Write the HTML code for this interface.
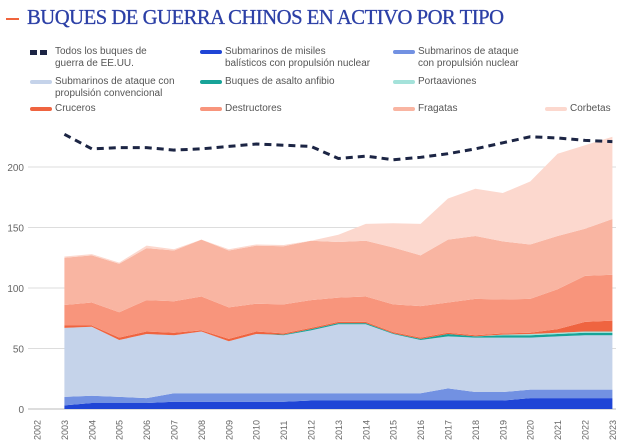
<!DOCTYPE html>
<html><head><meta charset="utf-8"><style>
body{margin:0;background:#fff;font-family:"Liberation Sans",sans-serif;}
#wrap{position:relative;width:628px;height:445px;overflow:hidden;}
.leg{position:absolute;font-size:10px;color:#555;line-height:12px;}
.sw{position:absolute;width:22px;height:4px;border-radius:2px;}
</style></head><body>
<div id="wrap">
<div style="position:absolute;left:6px;top:18px;width:13px;height:2px;background:#f0643c"></div>
<div style="position:absolute;left:27px;top:5px;font-family:'Liberation Serif',serif;font-size:21.5px;color:#2b3fa6;letter-spacing:-0.5px;transform:scaleX(0.96);transform-origin:left;-webkit-text-stroke:0.3px #2b3fa6">BUQUES DE GUERRA CHINOS EN ACTIVO POR TIPO</div>
<div id="legend"></div>
<svg id="chart" width="628" height="445" style="position:absolute;left:0;top:0"></svg>
</div>
<script>
const years=[2002,2003,2004,2005,2006,2007,2008,2009,2010,2011,2012,2013,2014,2015,2016,2017,2018,2019,2020,2021,2022,2023];
const dataYears=[2003,2004,2005,2006,2007,2008,2009,2010,2011,2012,2013,2014,2015,2016,2017,2018,2019,2020,2021,2022,2023];
const yTicks=[0,50,100,150,200];
const ssbn=[3,5,5,5,6,6,6,6,6,7,7,7,7,7,7,7,7,9,9,9,9];
const ssn=[7,6,5,4,7,7,7,7,7,6,6,6,6,6,10,7,7,7,7,7,7];
const ssk=[57,57,47,53,48,51,43,49,48,52,57,57,49,44,43,45,45,43,44,45,45];
const amphib=[0,0,0,0,0,0,0,0,0.5,1,1,1,0.5,1,2,1,2,2,2,2,2];
const carriers=[0,0,0,0,0,0,0,0,0,0,0,0,0,0,0,0,0.5,1,1,1,1];
const cruisers=[2,1,2,2,2,1,2,2,1,1,1,1,1,1,1,1,1,1,3,8,9];
const destroyers=[17,19,21,26,26,28,26,23,24,23,20,21,23,26,25,30,28,28,33,38,38];
const frigates=[39,39,40,43,42,47,47,48,48,49,46,46,47,42,52,52,48,45,44,39,46];
const corvettes=[1,1,1,2,1,0,1,1,1,0,6,14,20,26,34,39,40,52,68,69,68];
const usTotal=[227,215,216,216,214,215,217,219,218,217,207,209,206,208,211,215,220,225,224,222,221];

const series=[
 {name:'ssbn',vals:ssbn,color:'#1f45d6',label:'Submarinos de misiles<br>balísticos con propulsión nuclear',lx:200,ly:46},
 {name:'ssn',vals:ssn,color:'#7291e2',label:'Submarinos de ataque<br>con propulsión nuclear',lx:393,ly:46},
 {name:'ssk',vals:ssk,color:'#c5d3ea',label:'Submarinos de ataque con<br>propulsión convencional',lx:30,ly:76},
 {name:'amphibious',vals:amphib,color:'#17a398',label:'Buques de asalto anfibio',lx:200,ly:76},
 {name:'carriers',vals:carriers,color:'#a4e2da',label:'Portaaviones',lx:393,ly:76},
 {name:'cruisers',vals:cruisers,color:'#ef6440',label:'Cruceros',lx:30,ly:103},
 {name:'destroyers',vals:destroyers,color:'#f8957c',label:'Destructores',lx:200,ly:103},
 {name:'frigates',vals:frigates,color:'#f9b5a2',label:'Fragatas',lx:393,ly:103},
 {name:'corvettes',vals:corvettes,color:'#fcd8ce',label:'Corbetas',lx:545,ly:103}
];
const X0=37,XSTEP=27.4,Y0=409,YS=1.21;
const xs=y=>X0+(y-2002)*XSTEP;
const ys=v=>Y0-v*YS;
const NS='http://www.w3.org/2000/svg';
const svg=document.getElementById('chart');
function mk(tag,attrs){const e=document.createElementNS(NS,tag);for(const k in attrs)e.setAttribute(k,attrs[k]);return e;}

yTicks.forEach(t=>{
 const l=mk('line',{x1:28,x2:616,y1:ys(t),y2:ys(t),stroke:t===0?'#bbb':'#ddd','stroke-width':1});
 
 
 svg.appendChild(l);
 const tx=mk('text',{x:24,y:ys(t)+4,'text-anchor':'end','font-size':10,fill:'#666','font-family':'Liberation Sans, sans-serif'});
 tx.textContent=t;
 
 
 svg.appendChild(tx);
});
let base=dataYears.map(()=>0);
series.forEach(s=>{
 const top=base.map((b,i)=>b+s.vals[i]);
 let d='M'+dataYears.map((y,i)=>xs(y)+','+ys(top[i])).join(' L');
 for(let i=dataYears.length-1;i>=0;i--) d+=' L'+xs(dataYears[i])+','+ys(base[i]);
 d+=' Z';
 const p=mk('path',{d:d,fill:s.color});
 
 
 svg.appendChild(p);
 base=top;
});
const us=mk('polyline',{points:dataYears.map((y,i)=>xs(y)+','+ys(usTotal[i])).join(' '),fill:'none',stroke:'#1c2544','stroke-width':3,'stroke-dasharray':'7,5'});


svg.appendChild(us);
years.forEach(y=>{
 const t=mk('text',{transform:'translate('+(xs(y)+3.5)+',440) rotate(-90)','font-size':9,fill:'#666','font-family':'Liberation Sans, sans-serif'});
 t.textContent=y;
 
 
 svg.appendChild(t);
});
const leg=document.getElementById('legend');
function addLeg(lx,ly,color,label,name,dash){
 const sw=document.createElement('div');
 sw.className='sw';
 sw.style.left=lx+'px';sw.style.top=(ly+4)+'px';
 if(dash){sw.style.background='repeating-linear-gradient(90deg,#1c2544 0 7px,transparent 7px 10px)';sw.style.borderRadius='0';sw.style.height='5px';sw.style.width='17px';}
 else sw.style.background=color;
 
 
 leg.appendChild(sw);
 const t=document.createElement('div');
 t.className='leg';t.style.left=(lx+25)+'px';t.style.top=ly+'px';t.innerHTML=label;
 
 
 leg.appendChild(t);
}
addLeg(30,46,'#1c2544','Todos los buques de<br>guerra de EE.UU.','us-warships',true);
series.forEach(s=>addLeg(s.lx,s.ly,s.color,s.label,s.name,false));
</script>
</body></html>
